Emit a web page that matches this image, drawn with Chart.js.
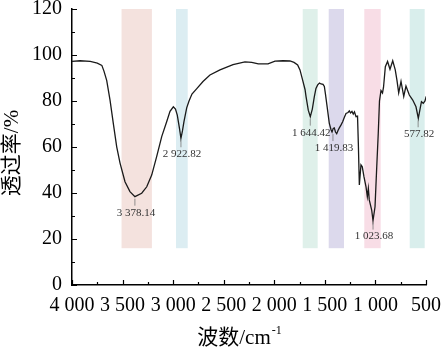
<!DOCTYPE html>
<html>
<head>
<meta charset="utf-8">
<script src="https://cdn.jsdelivr.net/npm/chart.js@4.4.1/dist/chart.umd.min.js"></script>
<style>
  html, body { margin: 0; padding: 0; background: #fff; }
</style>
</head>
<body>
<canvas id="ftir" width="442" height="354"></canvas>
<script>
// spectrum (cm-1, %)
const wavenumbers = [4000, 3920, 3820, 3750, 3705, 3684, 3657, 3624, 3592, 3558, 3525, 3476, 3427, 3378, 3311, 3261, 3212, 3163, 3113, 3064,
  3031, 2998, 2977, 2959, 2937, 2923, 2908, 2893, 2866, 2843, 2814, 2764, 2705, 2636, 2537, 2408, 2290, 2223, 2158, 2062,
  1993, 1914, 1845, 1805, 1769, 1746, 1719, 1696, 1686, 1664, 1644, 1624, 1604, 1588, 1571, 1553, 1538, 1518, 1505, 1494,
  1479, 1456, 1439, 1429, 1417, 1407, 1395, 1383, 1370, 1357, 1341, 1324, 1306, 1291, 1271, 1258, 1246, 1232, 1219, 1207,
  1192, 1177, 1169, 1159, 1143, 1130, 1113, 1093, 1080, 1070, 1061, 1037, 1024, 1004, 987, 972, 960, 945, 930, 920,
  902, 880, 856, 829, 804, 787, 770, 747, 720, 698, 665, 631, 599, 576, 559, 545, 527, 510, 498];
const transmittance = [97.2, 97.5, 97.2, 96.5, 95.5, 93, 89, 80.4, 70.4, 60.1, 53, 44.9, 40.6, 38.4, 39.9, 42.7, 47.8, 55.8, 64.5, 71,
  75.5, 77.5, 76.5, 73.9, 68, 63.8, 67, 71, 77, 80, 83, 85.5, 88.5, 91.3, 93.5, 95.8, 97, 96.8, 96.1, 96.1,
  97.3, 97.5, 97.4, 96.8, 95.7, 93.5, 89, 85, 81.9, 76, 73.2, 76.5, 81.9, 85.5, 87, 87.8, 87.4, 87.2, 86.3, 83,
  78, 70.3, 67.5, 66.5, 68.1, 68.3, 66.5, 65.8, 67.2, 68.3, 69.5, 71, 73, 74.6, 75, 75.7, 74.8, 75.5, 74.3, 75.3,
  73.2, 73.4, 61.6, 43.5, 52.2, 51.4, 47, 42.7, 38.4, 42, 37, 32.6, 28, 34, 51.4, 66, 80, 84.5, 83.5, 86,
  94.9, 97.2, 93.8, 97.5, 93.5, 89, 83.5, 88.5, 82, 86.5, 82.6, 80.4, 77.5, 72.5, 76.5, 79.7, 79, 80, 82];

// marked peaks
const peakPositions = [3378.14, 2922.82, 1644.42, 1419.83, 1023.68, 577.82];
const peakValues = [38.4, 63.8, 73.2, 66.5, 28, 72.5];
const peakLabels = ['3 378.14', '2 922.82', '1 644.42', '1 419.83', '1 023.68', '577.82'];

// shaded bands (cm-1 from / to) and their height range
const bandRanges = [[3510, 3210], [2972, 2856], [1719, 1571], [1462, 1311], [1110, 948], [661, 513]];
const bandLow = 16;
const bandHigh = 120;

// tick labels
const xTickValues = [4000, 3500, 3000, 2500, 2000, 1500, 1000, 500];
const xTickLabels = ['4 000', '3 500', '3 000', '2 500', '2 000', '1 500', '1 000', '500'];
const yTickValues = [0, 20, 40, 60, 80, 100, 120];

const bandColors = ['#f4e2de', '#dcedf2', '#dff0ea', '#dcd9ec', '#f8dde6', '#d9eeec'];
const serif = '"Liberation Serif", "Noto Sans CJK SC", serif';

let points = [];
for(let i=0; i<wavenumbers.length; i++){
    points.push({ x: wavenumbers[i], y: transmittance[i] });
}

const decorPlugin = {
    id: 'decor',
    beforeDatasetsDraw(chart){
        const ctx = chart.ctx;
        const xs = chart.scales.x, ys = chart.scales.y;
        ctx.save();
        bandRanges.forEach(function(r, i){
            let x1 = xs.getPixelForValue(r[0]);
            let x2 = xs.getPixelForValue(r[1]);
            let yt = ys.getPixelForValue(bandHigh);
            let yb = ys.getPixelForValue(bandLow);
            ctx.fillStyle = bandColors[i];
            ctx.fillRect(Math.min(x1, x2), yt, Math.abs(x2 - x1), yb - yt);
        });
        ctx.restore();
    },
    afterDraw(chart){
        const ctx = chart.ctx;
        const xs = chart.scales.x, ys = chart.scales.y;
        const area = chart.chartArea;
        ctx.save();

        // inward tick marks, minor ones shorter
        ctx.strokeStyle = '#000';
        ctx.lineWidth = 1.2;
        ctx.beginPath();
        for(let v = 500; v <= 4000; v += 250){
            let px = Math.round(xs.getPixelForValue(v)) + 0.5;
            let len = (v % 500 === 0) ? 5 : 3;
            ctx.moveTo(px, area.bottom);
            ctx.lineTo(px, area.bottom - len);
        }
        for(let v = 0; v <= 120; v += 10){
            let py = Math.round(ys.getPixelForValue(v)) + 0.5;
            let len = (v % 20 === 0) ? 5 : 3;
            ctx.moveTo(area.left, py);
            ctx.lineTo(area.left + len, py);
        }
        ctx.stroke();

        // peak labels
        ctx.font = '11px ' + serif;
        ctx.fillStyle = '#333';
        ctx.textAlign = 'center';
        ctx.textBaseline = 'middle';
        ctx.strokeStyle = '#777';
        ctx.lineWidth = 0.8;
        peakPositions.forEach(function(p, i){
            let px = xs.getPixelForValue(p);
            let py = ys.getPixelForValue(peakValues[i]);
            ctx.beginPath();
            ctx.moveTo(px, py + 2);
            ctx.lineTo(px, py + 9);
            ctx.stroke();
            ctx.fillText(peakLabels[i], px + 1, py + 16);
        });

        // axis titles
        ctx.fillStyle = '#000';
        ctx.font = '21px ' + serif;
        let main = '波数/cm';
        let wMain = ctx.measureText(main).width;
        ctx.font = '12px ' + serif;
        let sup = '-1';
        let wSup = ctx.measureText(sup).width;
        let cx = (area.left + area.right) / 2 - 10;
        let startX = cx - (wMain + wSup) / 2;
        ctx.textAlign = 'left';
        ctx.textBaseline = 'middle';
        ctx.font = '21px ' + serif;
        ctx.fillText(main, startX, 338);
        ctx.font = '12px ' + serif;
        ctx.fillText(sup, startX + wMain + 1, 331);

        ctx.translate(12, 153);
        ctx.rotate(-Math.PI / 2);
        ctx.textAlign = 'center';
        ctx.font = '21px ' + serif;
        ctx.fillText('透过率/%', 0, 0);

        ctx.restore();
    }
};

let ctxFtir = document.getElementById('ftir');
new Chart(ctxFtir, {
    type: 'line',
    data: {
        datasets: [
            {
                label: 'FTIR',
                data: points,
                borderColor: '#1a1a1a',
                borderWidth: 1.3,
                pointRadius: 0,
                tension: 0,
                fill: false
            }
        ]
    },
    options: {
        responsive: false,
        animation: false,
        events: [],
        layout: { padding: { top: 9, right: 16, bottom: 0, left: 0 } },
        plugins: {
            legend: { display: false },
            tooltip: { enabled: false }
        },
        scales: {
            x: {
                type: 'linear',
                reverse: true,
                min: 500,
                max: 4000,
                border: { color: '#000', width: 1.5 },
                grid: { display: true, drawOnChartArea: false, drawTicks: false },
                ticks: {
                    stepSize: 500,
                    padding: 9,
                    color: '#000',
                    maxRotation: 0,
                    autoSkip: false,
                    font: { family: serif, size: 20 },
                    callback: function(value){
                        let idx = xTickValues.indexOf(value);
                        return idx >= 0 ? xTickLabels[idx] : '';
                    }
                },
                afterFit: function(scale){
                    scale.height = 69;
                    scale.paddingLeft = 0;
                    scale.paddingRight = 0;
                }
            },
            y: {
                min: 0,
                max: 120,
                border: { color: '#000', width: 1.5 },
                grid: { display: true, drawOnChartArea: false, drawTicks: false },
                ticks: {
                    stepSize: 20,
                    padding: 10,
                    color: '#000',
                    font: { family: serif, size: 20 },
                    callback: function(value){
                        return yTickValues.indexOf(value) >= 0 ? String(value) : '';
                    }
                },
                afterFit: function(scale){
                    scale.width = 72;
                    scale.paddingTop = 0;
                    scale.paddingBottom = 0;
                }
            }
        }
    },
    plugins: [decorPlugin]
});
</script>
</body>
</html>
